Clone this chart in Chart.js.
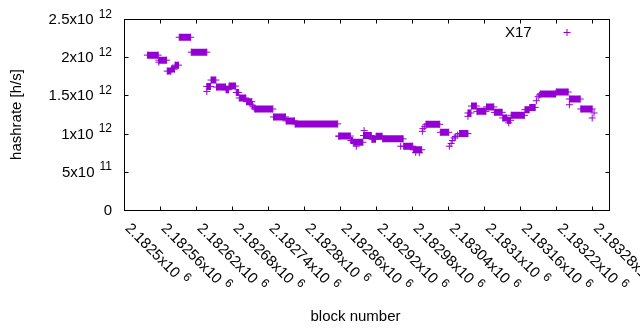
<!DOCTYPE html>
<html>
<head>
<meta charset="utf-8">
<script src="https://cdn.jsdelivr.net/npm/chart.js@4.4.1/dist/chart.umd.min.js"></script>
<style>
  html, body { margin: 0; padding: 0; background: #fff; }
  canvas { display: block; }
</style>
</head>
<body>
<canvas id="hashChart" width="640" height="330"></canvas>
<script>
// each run: first block, last block, hashrate over that stretch (start == end for a single point)
const runStart = [
  2182539, 2182558, 2182558, 2182572, 2182579, 2182585, 2182592, 2182612, 2182638, 2182638,
  2182645, 2182654, 2182670, 2182675, 2182687, 2182692, 2182704, 2182714, 2182715, 2182717,
  2182718, 2182749, 2182770, 2182785, 2182858, 2182858, 2182878, 2182882, 2182887, 2182900,
  2182899, 2182913, 2182920, 2182931, 2182961, 2182966, 2182982, 2182986, 2182992, 2182997,
  2182998, 2183001, 2183003, 2183027, 2183042, 2183045, 2183047, 2183050, 2183052, 2183056,
  2183059, 2183073, 2183073, 2183079, 2183088, 2183104, 2183117, 2183131, 2183139, 2183141,
  2183145, 2183168, 2183176, 2183187, 2183190, 2183192, 2183194, 2183220, 2183242, 2183242,
  2183261, 2183280, 2183283
];
const runEnd = [
  2182557, 2182558, 2182571, 2182578, 2182584, 2182591, 2182611, 2182638, 2182638, 2182644,
  2182653, 2182669, 2182674, 2182686, 2182691, 2182703, 2182713, 2182714, 2182715, 2182717,
  2182748, 2182769, 2182784, 2182856, 2182858, 2182877, 2182881, 2182898, 2182887, 2182900,
  2182912, 2182919, 2182930, 2182965, 2182961, 2182981, 2182996, 2182986, 2182992, 2182997,
  2182998, 2183001, 2183026, 2183041, 2183042, 2183045, 2183047, 2183050, 2183052, 2183056,
  2183073, 2183073, 2183078, 2183087, 2183103, 2183116, 2183130, 2183138, 2183144, 2183141,
  2183167, 2183175, 2183185, 2183187, 2183190, 2183192, 2183219, 2183240, 2183242, 2183260,
  2183280, 2183280, 2183283
];
const runHashrate = [
  2.027e12, 1.935e12, 1.961e12, 1.818e12, 1.844e12, 1.896e12, 2.261e12, 2.066e12, 1.552e12, 1.617e12,
  1.701e12, 1.609e12, 1.574e12, 1.622e12, 1.539e12, 1.466e12, 1.418e12, 1.372e12, 1.352e12, 1.335e12,
  1.322e12, 1.218e12, 1.166e12, 1.127e12, 0.965e12, 0.968e12, 0.909e12, 0.887e12, 0.835e12, 1.039e12,
  0.974e12, 0.926e12, 0.965e12, 0.931e12, 0.835e12, 0.835e12, 0.788e12, 0.753e12, 0.750e12, 1.030e12,
  1.065e12, 1.091e12, 1.122e12, 1.017e12, 0.835e12, 0.870e12, 0.909e12, 0.942e12, 0.961e12, 0.981e12,
  1.000e12, 1.226e12, 1.270e12, 1.361e12, 1.291e12, 1.349e12, 1.278e12, 1.205e12, 1.174e12, 1.140e12,
  1.239e12, 1.313e12, 1.343e12, 1.430e12, 1.483e12, 1.505e12, 1.518e12, 1.544e12, 1.378e12, 1.453e12,
  1.322e12, 1.205e12, 1.270e12
];

const xTicks = [2182500, 2182560, 2182620, 2182680, 2182740, 2182800, 2182860,
  2182920, 2182980, 2183040, 2183100, 2183160, 2183220, 2183280];
const xTickBase = ['2.1825x10', '2.18256x10', '2.18262x10', '2.18268x10', '2.18274x10', '2.1828x10', '2.18286x10',
  '2.18292x10', '2.18298x10', '2.18304x10', '2.1831x10', '2.18316x10', '2.18322x10', '2.18328x10'];
const xTickExp = '6';

const yTicks = [0, 5e11, 1e12, 1.5e12, 2e12, 2.5e12];
const yTickBase = ['0', '5x10', '1x10', '1.5x10', '2x10', '2.5x10'];
const yTickExp = ['', '11', '12', '12', '12', '12'];

const seriesName = 'X17';
const xTitle = 'block number';
const yTitle = 'hashrate [h/s]';

const PURPLE = '#9400d3';
const FONT = '"Liberation Sans", Arial, sans-serif';

// two points per run with a gap after it, so the thick line only fills the run itself
const points = [];
runStart.forEach((s, i) => {
  points.push({ x: s, y: runHashrate[i] });
  if (runEnd[i] !== s) points.push({ x: runEnd[i], y: runHashrate[i] });
  points.push({ x: runEnd[i], y: null });
});

const gnuplotFrame = {
  id: 'gnuplotFrame',
  afterDraw(chart) {
    const ctx = chart.ctx;
    const xs = chart.scales.x;
    const ys = chart.scales.y;
    const a = chart.chartArea;
    const L = Math.round(a.left) + 0.5, R = Math.round(a.right) + 0.5;
    const T = Math.round(a.top) + 0.5, B = Math.round(a.bottom) + 0.5;
    ctx.save();
    ctx.strokeStyle = '#000';
    ctx.lineWidth = 1;
    ctx.strokeRect(L, T, R - L, B - T);

    ctx.beginPath();
    yTicks.forEach(v => {
      const y = Math.round(ys.getPixelForValue(v)) + 0.5;
      ctx.moveTo(L, y); ctx.lineTo(L + 4, y);
      ctx.moveTo(R, y); ctx.lineTo(R - 4, y);
    });
    xTicks.forEach(v => {
      const x = Math.round(xs.getPixelForValue(v)) + 0.5;
      ctx.moveTo(x, B); ctx.lineTo(x, B - 4);
      ctx.moveTo(x, T); ctx.lineTo(x, T + 4);
    });
    ctx.stroke();

    ctx.fillStyle = '#000';
    ctx.textAlign = 'left';
    ctx.textBaseline = 'alphabetic';

    // y labels, right aligned, with raised exponent
    yTicks.forEach((v, i) => {
      const y = ys.getPixelForValue(v) + 5;
      ctx.font = '15px ' + FONT;
      const wb = ctx.measureText(yTickBase[i]).width;
      ctx.font = '12px ' + FONT;
      const we = yTickExp[i] ? ctx.measureText(yTickExp[i]).width + 5 : 0;
      const x0 = 112 - wb - we;
      ctx.font = '15px ' + FONT;
      ctx.fillText(yTickBase[i], x0, y);
      if (yTickExp[i]) {
        ctx.font = '12px ' + FONT;
        ctx.fillText(yTickExp[i], x0 + wb + 5, y - 6.5);
      }
    });

    // x labels rotated down to the right
    xTicks.forEach((v, i) => {
      const x = xs.getPixelForValue(v);
      ctx.save();
      ctx.translate(x + 0.5, B + 18.5);
      ctx.rotate(Math.PI / 4);
      ctx.font = '15px ' + FONT;
      const wb = ctx.measureText(xTickBase[i]).width;
      ctx.fillText(xTickBase[i], 0, 0);
      ctx.font = '12px ' + FONT;
      ctx.fillText(xTickExp, wb + 5, -6.5);
      ctx.restore();
    });

    // axis titles
    ctx.font = '15px ' + FONT;
    ctx.textAlign = 'center';
    ctx.fillText(xTitle, 355.5, 321);
    ctx.save();
    ctx.translate(21, (a.top + a.bottom) / 2);
    ctx.rotate(-Math.PI / 2);
    ctx.fillText(yTitle, 0, 0);
    ctx.restore();

    // key
    ctx.textAlign = 'left';
    ctx.fillText(seriesName, 505, 37);
    ctx.strokeStyle = PURPLE;
    ctx.beginPath();
    ctx.moveTo(563.5, 32.5); ctx.lineTo(570.5, 32.5);
    ctx.moveTo(567, 29); ctx.lineTo(567, 36);
    ctx.stroke();
    ctx.restore();
  }
};

new Chart(document.getElementById('hashChart'), {
  type: 'line',
  data: {
    datasets: [{
      label: seriesName,
      data: points,
      borderColor: PURPLE,
      backgroundColor: PURPLE,
      borderWidth: 7,
      borderCapStyle: 'butt',
      borderJoinStyle: 'miter',
      spanGaps: false,
      tension: 0,
      pointStyle: 'cross',
      pointRadius: 3.5,
      pointBorderWidth: 1,
      pointBorderColor: PURPLE,
      pointHoverRadius: 3.5
    }]
  },
  options: {
    responsive: false,
    animation: false,
    events: [],
    layout: { padding: { left: 124, right: 31, top: 19, bottom: 120 } },
    scales: {
      x: { type: 'linear', min: 2182500, max: 2183308, display: false },
      y: { type: 'linear', min: 0, max: 2.5e12, display: false }
    },
    plugins: {
      legend: { display: false },
      tooltip: { enabled: false }
    }
  },
  plugins: [gnuplotFrame]
});
</script>
</body>
</html>
